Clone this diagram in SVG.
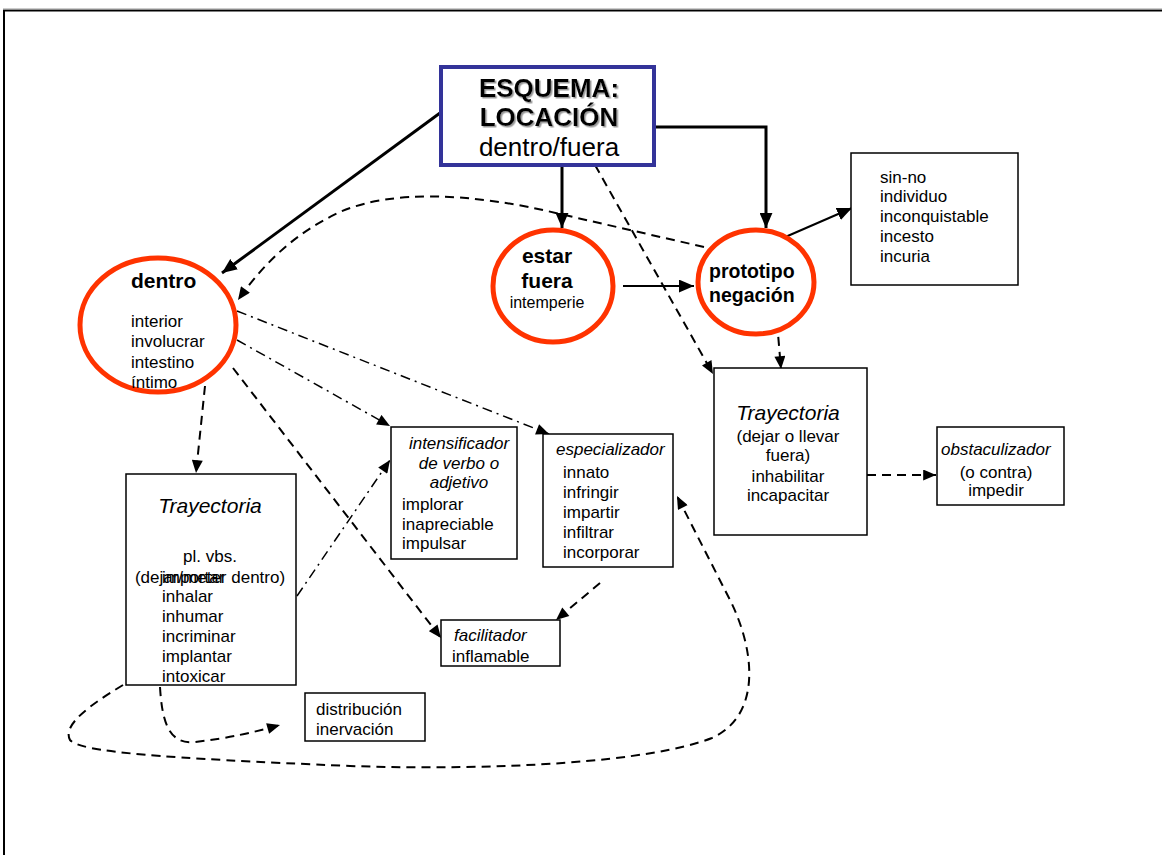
<svg xmlns="http://www.w3.org/2000/svg" width="1162" height="855" viewBox="0 0 1162 855">
<defs>
<style>
text{font-family:"Liberation Sans",Arial,sans-serif;fill:#000}
.box{fill:#fff;stroke:#000;stroke-width:1.5}
.circ{fill:#fff;stroke:#ff3300;stroke-width:5}
.solid{fill:none;stroke:#000;stroke-width:3}
.thin{fill:none;stroke:#000;stroke-width:2}
.dash{fill:none;stroke:#000;stroke-width:2;stroke-dasharray:9,6}
.dd{fill:none;stroke:#000;stroke-width:1.5;stroke-dasharray:10,5,2,5}
.t17{font-size:17px}
.it{font-style:italic}
.b{font-weight:bold}
.mid{text-anchor:middle}
</style>
<marker id="ah" viewBox="0 0 14 12" refX="14" refY="6" markerWidth="15" markerHeight="13" markerUnits="userSpaceOnUse" orient="auto">
<path d="M0,0 L14,6 L0,12 Z" fill="#000"/>
</marker>
<marker id="ah2" viewBox="0 0 14 12" refX="14" refY="6" markerWidth="14" markerHeight="11" markerUnits="userSpaceOnUse" orient="auto">
<path d="M0,0 L14,6 L0,12 Z" fill="#000"/>
</marker>
<filter id="sh" x="-5%" y="-5%" width="115%" height="130%">
<feDropShadow dx="1.5" dy="1.5" stdDeviation="0.4" flood-color="#999" flood-opacity="1"/>
</filter>
</defs>
<rect width="1162" height="855" fill="#fff"/>
<path d="M4,855 L4,10.5 L1162,10.5" fill="none" stroke="#000" stroke-width="2"/>
<path d="M3,9 L1162,9" fill="none" stroke="#999" stroke-width="1"/>

<g id="connectors">
<line class="solid" x1="440" y1="113" x2="222" y2="273" marker-end="url(#ah)"/>
<line class="solid" x1="562" y1="165" x2="562" y2="228" marker-end="url(#ah)"/>
<polyline class="solid" points="655,127 766,127 766,228" marker-end="url(#ah)"/>
<line class="dash" x1="595" y1="165" x2="713" y2="374" marker-end="url(#ah2)"/>
<line class="thin" x1="623" y1="286" x2="694" y2="286" marker-end="url(#ah)"/>
<line class="thin" x1="783" y1="238" x2="852" y2="208" marker-end="url(#ah)"/>
<line class="dash" x1="777" y1="322" x2="781" y2="369" marker-end="url(#ah2)"/>
<path class="dash" d="M704,247 L560,214 C470,192 390,190 340,212 C295,233 265,262 238,300" marker-end="url(#ah2)"/>
<line class="dd" x1="237" y1="311" x2="549" y2="434" marker-end="url(#ah2)"/>
<line class="dd" x1="237" y1="340" x2="390" y2="426" marker-end="url(#ah2)"/>
<line class="dash" x1="233" y1="368" x2="441" y2="638" marker-end="url(#ah2)"/>
<line class="dash" x1="205" y1="386" x2="196" y2="473" marker-end="url(#ah2)"/>
<line class="dd" x1="297" y1="596" x2="390" y2="460" marker-end="url(#ah2)"/>
<line class="dash" x1="600" y1="583" x2="556" y2="620" marker-end="url(#ah2)"/>
<line class="dash" x1="867" y1="475" x2="936" y2="475" marker-end="url(#ah2)"/>
<path class="dash" d="M123,685 C90,705 62,725 70,740 C80,752 160,758 350,766 C500,771 650,762 712,738 C762,715 755,650 730,600 L677,496" marker-end="url(#ah2)"/>
<path class="dash" d="M160,687 C162,720 168,745 195,742 C230,738 255,732 280,725" marker-end="url(#ah2)"/>
</g>

<g id="esquema">
<rect x="441" y="67" width="213" height="98" fill="#fff" stroke="#333399" stroke-width="4"/>
<g filter="url(#sh)">
<text x="549" y="97" class="b mid" font-size="26">ESQUEMA:</text>
<text x="549" y="126" class="b mid" font-size="26">LOCACIÓN</text>
</g>
<text x="549" y="156" class="mid" font-size="26">dentro/fuera</text>
</g>

<g id="dentro">
<ellipse cx="158" cy="325" rx="78" ry="67" class="circ"/>
<text x="131" y="288" class="b" font-size="21">dentro</text>
<text x="131" y="327" class="t17">interior</text>
<text x="131" y="347" class="t17">involucrar</text>
<text x="131" y="368" class="t17">intestino</text>
<text x="131" y="388" class="t17">íntimo</text>
</g>

<g id="estar-fuera">
<ellipse cx="553" cy="286" rx="60" ry="56" class="circ"/>
<text x="547" y="263" class="b mid" font-size="21">estar</text>
<text x="547" y="288" class="b mid" font-size="21">fuera</text>
<text x="547" y="308" class="mid" font-size="16">intemperie</text>
</g>

<g id="prototipo">
<ellipse cx="756" cy="282" rx="58" ry="52" class="circ"/>
<text x="709" y="278" class="b" font-size="19.5">prototipo</text>
<text x="709" y="302" class="b" font-size="19.5">negación</text>
</g>

<g id="sin-no">
<rect x="851" y="153" width="167" height="132" class="box"/>
<text x="880" y="183" class="t17">sin-no</text>
<text x="880" y="202" class="t17">individuo</text>
<text x="880" y="222" class="t17">inconquistable</text>
<text x="880" y="242" class="t17">incesto</text>
<text x="880" y="262" class="t17">incuria</text>
</g>

<g id="trayectoria-fuera">
<rect x="714" y="368" width="153" height="167" class="box"/>
<text x="788" y="420" class="it mid" font-size="21">Trayectoria</text>
<text x="788" y="442" class="t17 mid">(dejar o llevar</text>
<text x="788" y="461" class="t17 mid">fuera)</text>
<text x="788" y="482" class="t17 mid">inhabilitar</text>
<text x="788" y="501" class="t17 mid">incapacitar</text>
</g>

<g id="obstaculizador">
<rect x="937" y="427" width="127" height="78" class="box"/>
<text x="941" y="455" class="t17 it">obstaculizador</text>
<text x="996" y="478" class="t17 mid">(o contra)</text>
<text x="996" y="496" class="t17 mid">impedir</text>
</g>

<g id="trayectoria-dentro">
<rect x="126" y="474" width="170" height="211" class="box"/>
<text x="210" y="513" class="it mid" font-size="21">Trayectoria</text>
<text x="210" y="562" class="t17 mid">pl. vbs.</text>
<text x="210" y="583" class="t17 mid">(dejar/meter dentro)</text>
<text x="162" y="583" class="t17">importar</text>
<text x="162" y="602" class="t17">inhalar</text>
<text x="162" y="622" class="t17">inhumar</text>
<text x="162" y="642" class="t17">incriminar</text>
<text x="162" y="662" class="t17">implantar</text>
<text x="162" y="682" class="t17">intoxicar</text>
</g>

<g id="intensificador">
<rect x="391" y="427" width="126" height="132" class="box"/>
<text x="459" y="449" class="t17 it mid">intensificador</text>
<text x="459" y="469" class="t17 it mid">de verbo o</text>
<text x="459" y="488" class="t17 it mid">adjetivo</text>
<text x="402" y="510" class="t17">implorar</text>
<text x="402" y="530" class="t17">inapreciable</text>
<text x="402" y="549" class="t17">impulsar</text>
</g>

<g id="especializador">
<rect x="543" y="434" width="130" height="133" class="box"/>
<text x="556" y="455" class="t17 it">especializador</text>
<text x="563" y="478" class="t17">innato</text>
<text x="563" y="498" class="t17">infringir</text>
<text x="563" y="518" class="t17">impartir</text>
<text x="563" y="538" class="t17">infiltrar</text>
<text x="563" y="558" class="t17">incorporar</text>
</g>

<g id="facilitador">
<rect x="441" y="620" width="119" height="46" class="box"/>
<text x="454" y="641" class="t17 it">facilitador</text>
<text x="452" y="662" class="t17">inflamable</text>
</g>

<g id="distribucion">
<rect x="305" y="693" width="120" height="48" class="box"/>
<text x="316" y="715" class="t17">distribución</text>
<text x="316" y="735" class="t17">inervación</text>
</g>
</svg>
